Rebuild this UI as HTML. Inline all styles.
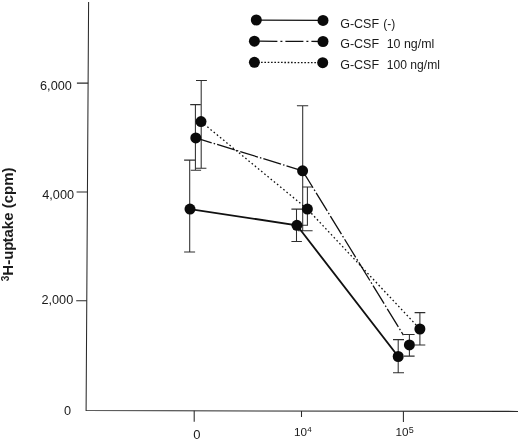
<!DOCTYPE html>
<html lang="en">
<head>
<meta charset="utf-8">
<title>3H-uptake chart</title>
<style>
html,body{margin:0;padding:0;background:#fff;}
body{width:520px;height:439px;overflow:hidden;}
svg{display:block;}
text{font-family:"Liberation Sans",Arial,Helvetica,sans-serif;fill:#1a1a1a;}
.ax{stroke:#2a2a2a;stroke-width:1.05;fill:none;}
.eb{stroke:#2e2e2e;stroke-width:1.05;fill:none;}
.dot{fill:#0a0a0a;}
.solid{stroke:#111;stroke-width:1.85;fill:none;}
.dd{stroke:#111;stroke-width:1.3;fill:none;stroke-dasharray:24 2.5 1.5 2.5;}
.dt{stroke:#111;stroke-width:1.3;fill:none;stroke-dasharray:1.6 2.5;}
</style>
</head>
<body>
<svg width="520" height="439" viewBox="0 0 520 439">
<rect width="520" height="439" fill="#fff"/>

<!-- axes -->
<path class="ax" d="M88.6 2 L86.1 410.6 L518 411.4"/>
<!-- y ticks -->
<path class="ax" d="M76.9 83.1H88.2 M76.6 192H87.6 M76.2 300.7H86.8"/>
<!-- x ticks -->
<path class="ax" d="M194.2 410.8V421.8 M301.5 411V417 M403.4 411.2V421.9"/>

<!-- y labels -->
<text x="71.8" y="89.6" font-size="12.7" text-anchor="end">6,000</text>
<text x="74" y="199.3" font-size="12.7" text-anchor="end">4,000</text>
<text x="73.2" y="304.2" font-size="12.7" text-anchor="end">2,000</text>
<text x="71" y="415.1" font-size="12.7" text-anchor="end">0</text>

<!-- x labels -->
<text x="196.8" y="438.7" font-size="13" text-anchor="middle">0</text>
<text x="294" y="435.8" font-size="11.7">10<tspan font-size="8" dy="-3.8" dx="0.2">4</tspan></text>
<text x="395.6" y="435.7" font-size="11.7">10<tspan font-size="9" dy="-3" dx="0.2">5</tspan></text>

<!-- y axis title -->
<text transform="translate(13 281.2) rotate(-90)" font-size="15" font-weight="bold"><tspan font-size="10" dy="-3.6">3</tspan><tspan dy="3.6">H-up</tspan><tspan dx="-1">take (cpm)</tspan></text>

<!-- legend -->
<path class="solid" style="stroke-width:1.4" d="M256.3 20.1L323 20.4"/>
<path class="dd" style="stroke-dasharray:18 3 2 3;stroke-dashoffset:-5" d="M254.4 41.2L323 41.5"/>
<path class="dt" style="stroke-dasharray:1.6 1.73" d="M254.4 62.3L322.7 62.7"/>
<circle class="dot" cx="256.3" cy="20" r="5.5"/><circle class="dot" cx="323" cy="20.4" r="5.5"/>
<circle class="dot" cx="254.4" cy="41.2" r="5.5"/><circle class="dot" cx="323" cy="41.5" r="5.5"/>
<circle class="dot" cx="254.4" cy="62.3" r="5.5"/><circle class="dot" cx="322.7" cy="62.7" r="5.5"/>
<text x="340.2" y="27.6" font-size="12.5">G-CSF</text><text x="383.3" y="27.8" font-size="12">(-)</text>
<text x="340.2" y="48.4" font-size="12.5">G-CSF</text><text x="386.7" y="48.4" font-size="12.4">10 ng/ml</text>
<text x="340.2" y="69.2" font-size="12.5">G-CSF</text><text x="386.8" y="69.2" font-size="12.1">100 ng/ml</text>

<!-- error bars: x=0 -->
<path class="eb" d="M201.2 80.4V168.2 M196 80.4H206.9 M195.8 168.2H206.4"/>
<path class="eb" d="M195.4 104.6V170.3 M190.2 104.6H200.8 M190.7 170.3H201.1"/>
<path class="eb" d="M189.7 160.1V252 M184.1 160.1H195.3 M184.1 252H195.1"/>
<!-- error bars: 10^4 -->
<path class="eb" d="M302.7 105.7V230.8 M296.9 105.7H308.2 M298 230.8H312.6"/>
<path class="eb" d="M307.4 186.9V225.3 M302.3 186.9H312.6 M300 225.3H308"/>
<path class="eb" d="M296.5 209.1V241.5 M291.4 209.1H302 M291.4 241.5H301.9"/>
<!-- error bars: 10^5 -->
<path class="eb" d="M419.9 312.6V344.9 M414.6 312.6H425.3 M414.6 344.9H425.3"/>
<path class="eb" d="M409.4 334.4V356.1 M403.6 334.4H414.6 M404 356.1H414.6"/>
<path class="eb" d="M398.2 339.6V372.7 M393 339.6H404 M393 372.7H404"/>

<!-- series lines -->
<path class="dt" d="M201 121.6L307.4 209.1L419.9 329"/>
<path class="dd" style="stroke-dasharray:18.5 2.1 1.5 2.1;stroke-dashoffset:1.9" d="M195.8 137.9L302.6 170.8"/>
<path class="dd" style="stroke-dasharray:21.2 2.2 1.6 2.2;stroke-dashoffset:1.3" d="M302.6 170.8L403.4 335.1"/>
<path class="solid" d="M190 209.1L296.9 225.3L398.2 356.5"/>

<!-- points -->
<circle class="dot" cx="201" cy="121.6" r="5.5"/>
<circle class="dot" cx="195.8" cy="137.9" r="5.5"/>
<circle class="dot" cx="190" cy="209.1" r="5.5"/>
<circle class="dot" cx="302.6" cy="170.8" r="5.5"/>
<circle class="dot" cx="307.4" cy="209.1" r="5.5"/>
<circle class="dot" cx="296.9" cy="225.3" r="5.5"/>
<circle class="dot" cx="419.9" cy="329" r="5.5"/>
<circle class="dot" cx="409.4" cy="344.9" r="5.5"/>
<circle class="dot" cx="398.2" cy="356.5" r="5.5"/>
</svg>
</body>
</html>
